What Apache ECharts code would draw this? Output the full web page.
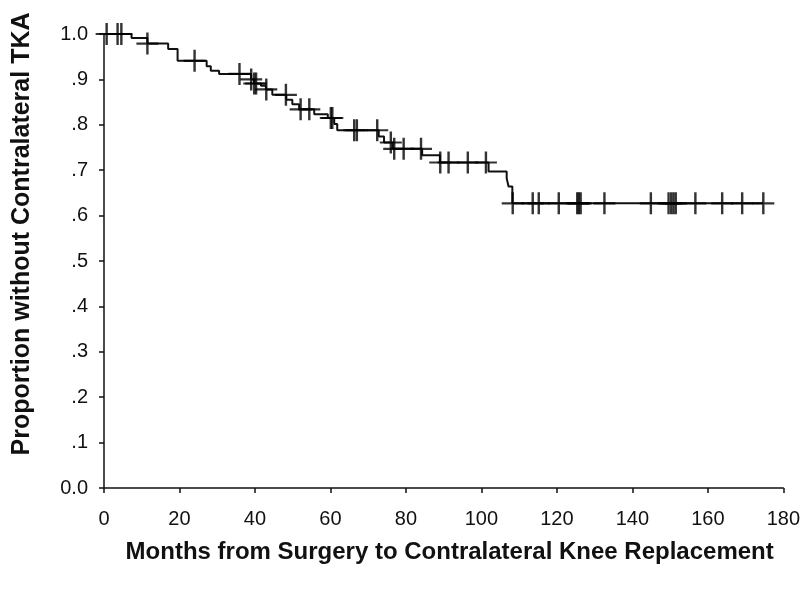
<!DOCTYPE html>
<html>
<head>
<meta charset="utf-8">
<script src="https://cdn.jsdelivr.net/npm/echarts@6/dist/echarts.min.js"></script>
<style>
html,body{margin:0;padding:0;background:#fff;}
#chart{width:803px;height:591px;}
</style>
</head>
<body>
<div id="chart"></div>
<script>
// Kaplan-Meier step points: time (months) where survival drops, and survival after the drop
const stepTimes = [0, 7.3, 11.5, 17.0, 19.5, 27.2, 28.3, 30.5, 39.0, 39.8, 41.6, 42.9, 44.6, 48.3, 49.9, 51.7, 55.7, 59.3, 61.0, 61.8, 72.8, 74.2, 76.5, 84.3, 89.0, 101.9, 106.7, 107.2, 108.2];
const stepSurv  = [1.0, 0.991, 0.979, 0.967, 0.941, 0.929, 0.919, 0.912, 0.900, 0.891, 0.886, 0.878, 0.866, 0.855, 0.845, 0.834, 0.823, 0.815, 0.802, 0.788, 0.774, 0.761, 0.747, 0.733, 0.717, 0.697, 0.682, 0.664, 0.627];
// Censored observation times (months)
const censorTimes = [0.7, 3.6, 4.6, 11.5, 24.0, 35.9, 39.0, 39.8, 40.3, 43.0, 48.2, 52.1, 54.4, 60.1, 60.5, 66.3, 67.0, 72.4, 76.0, 76.9, 79.4, 84.0, 89.1, 91.3, 96.4, 101.2, 108.3, 113.6, 115.2, 120.5, 125.4, 125.8, 126.3, 132.6, 144.9, 149.6, 150.3, 150.9, 151.5, 156.7, 163.8, 169.1, 174.7];
// Axis tick settings
const xTicks = [0, 20, 40, 60, 80, 100, 120, 140, 160, 180];
const yTickLabels = ['0.0', '.1', '.2', '.3', '.4', '.5', '.6', '.7', '.8', '.9', '1.0'];

function survAt(t) {
  let s = stepSurv[0];
  for (let i = 0; i < stepTimes.length; i++) {
    if (stepTimes[i] <= t) s = stepSurv[i];
  }
  return s;
}

const lineData = stepTimes.map((t, i) => [t, stepSurv[i]]);
lineData.push([censorTimes[censorTimes.length - 1], survAt(censorTimes[censorTimes.length - 1])]);
const censorData = censorTimes.map(t => [t, survAt(t)]);

const ink = '#111111';
const font = 'Liberation Sans, Arial, sans-serif';
const chart = echarts.init(document.getElementById('chart'), null, {renderer: 'canvas'});
chart.setOption({
  backgroundColor: '#ffffff',
  animation: false,
  grid: {left: 104, right: 17, top: 34, bottom: 103, containLabel: false},
  xAxis: {
    type: 'value', min: xTicks[0], max: xTicks[xTicks.length - 1], interval: 20,
    name: 'Months from Surgery to Contralateral Knee Replacement',
    nameLocation: 'middle', nameGap: 52,
    nameTextStyle: {fontFamily: font, fontWeight: 'bold', fontSize: 24, color: ink, padding: [0, 0, 0, 12]},
    axisLine: {show: true, lineStyle: {color: ink, width: 1.5}},
    axisTick: {show: true, inside: false, length: 5, lineStyle: {color: ink, width: 1.5}},
    axisLabel: {fontFamily: font, fontSize: 20, color: ink, margin: 21},
    splitLine: {show: false}
  },
  yAxis: {
    type: 'value', min: 0, max: 1, interval: 0.1,
    name: 'Proportion without Contralateral TKA',
    nameLocation: 'middle', nameGap: 69, nameRotate: 90,
    nameTextStyle: {fontFamily: font, fontWeight: 'bold', fontSize: 25, color: ink, padding: [0, 0, 0, 54]},
    axisLine: {show: true, lineStyle: {color: ink, width: 1.5}},
    axisTick: {show: true, inside: false, length: 5, lineStyle: {color: ink, width: 1.5}},
    axisLabel: {
      fontFamily: font, fontSize: 20, color: ink, margin: 16,
      formatter: v => yTickLabels[Math.round(v * 10)]
    },
    splitLine: {show: false}
  },
  series: [
    {
      type: 'line', data: lineData, step: 'end', showSymbol: false, symbol: 'none',
      lineStyle: {color: ink, width: 2}, clip: false, z: 2
    },
    {
      type: 'scatter', data: censorData, clip: false,
      symbol: 'path://M-1.1,-10 L1.1,-10 L1.1,10 L-1.1,10 Z M-10,-1 L10,-1 L10,1 L-10,1 Z',
      symbolSize: 22, symbolKeepAspect: true,
      itemStyle: {color: '#000'}, z: 3
    }
  ]
});
</script>
</body>
</html>
